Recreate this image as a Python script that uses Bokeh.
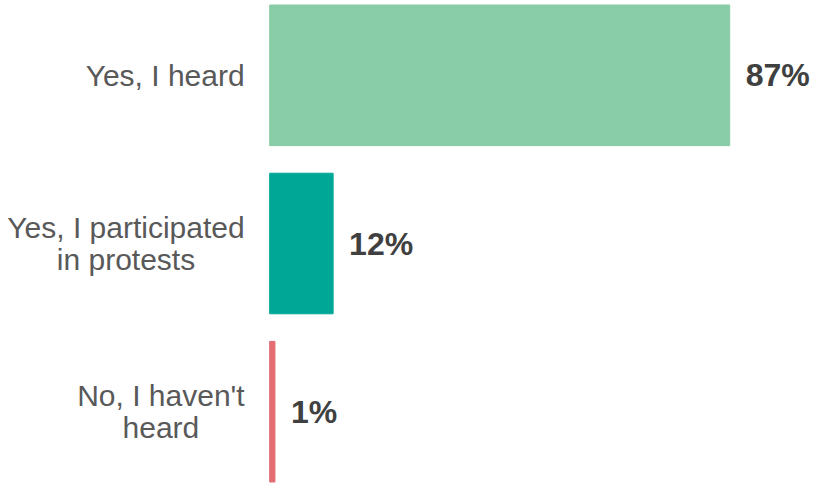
from bokeh.plotting import figure
from bokeh.models import FactorRange, Range1d, ColumnDataSource
from bokeh.core.properties import value
from bokeh.embed import file_html
from bokeh.resources import INLINE

categories = ["Yes, I heard", "Yes, I participated\nin protests", "No, I haven't\nheard"]
values = [87, 12, 1]
colors = ["#88CCA8", "#00A796", "#E46C73"]
labels = [f"{v}%" for v in values]

src = ColumnDataSource(dict(cat=categories, val=values, color=colors, label=labels,
                            zero=[0] * len(values)))

p = figure(
    width=817, height=486,
    y_range=FactorRange(factors=list(reversed(categories)), range_padding=-0.055,
                        range_padding_units="absolute"),
    x_range=Range1d(-50.9, 103.6),
    output_backend="svg", toolbar_location=None,
    min_border_left=0, min_border_right=0, min_border_top=0, min_border_bottom=0,
)
p.hbar(y="cat", right="val", left=0, height=0.836, color="color", source=src,
       line_color="color")
p.text(x="val", y="cat", text="label", source=src, x_offset=16,
       text_align="left", text_baseline="middle",
       text_font=value("Liberation Sans"), text_font_style="bold",
       text_font_size="32px", text_color="#404040")
p.text(x="zero", y="cat", text="cat", source=src, x_offset=-25,
       anchor="center_right", text_align="center", text_baseline="middle",
       text_line_height=0.95,
       text_font=value("Liberation Sans"), text_font_size="30px",
       text_color="#595959")

p.xaxis.visible = False
p.yaxis.visible = False
p.grid.visible = False
p.outline_line_color = None

open("out.html", "w").write(file_html(p, INLINE))
